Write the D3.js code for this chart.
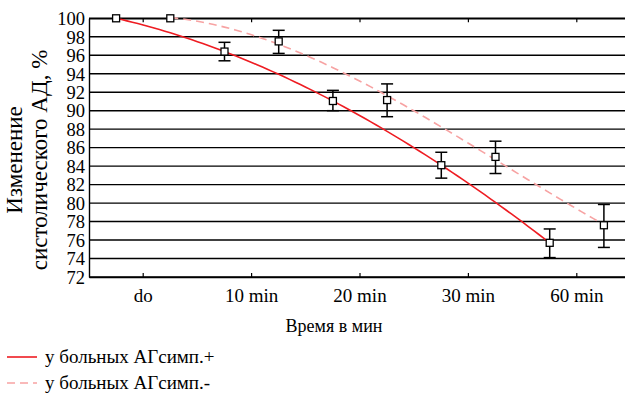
<!DOCTYPE html>
<html>
<head>
<meta charset="utf-8">
<script src="https://cdnjs.cloudflare.com/ajax/libs/d3/7.8.5/d3.min.js"></script>
<style>
  body { margin: 0; background: #fff; }
  svg text { font-family: "Liberation Serif"; }
</style>
</head>
<body>
<svg width="625" height="395" font-family="Liberation Serif"></svg>
<script>
var categories = ["do", "10 min", "20 min", "30 min", "60 min"];
var yTicks = [72, 74, 76, 78, 80, 82, 84, 86, 88, 90, 92, 94, 96, 98, 100];

// АГсимп.+
var plusMean = [100, 96.4, 91.05, 84.1, 75.7];
var plusLow  = [100, 95.4, 90.0, 82.7, 74.1];
var plusHigh = [100, 97.4, 92.2, 85.5, 77.2];
// АГсимп.-
var minusMean = [100, 97.5, 91.15, 85.0, 77.6];
var minusLow  = [100, 96.2, 89.35, 83.2, 75.2];
var minusHigh = [100, 98.7, 92.9, 86.7, 79.85];

var seriesNames = ["у больных АГсимп.+", "у больных АГсимп.-"];

// least squares polynomial (trend line like a spreadsheet one)
function polyFit(ys, order) {
  var n = order + 1, A = [], i, j, k;
  for (i = 0; i < n; i++) {
    A.push([]);
    for (j = 0; j <= n; j++) A[i].push(0);
  }
  ys.forEach(function(v, t) {
    for (i = 0; i < n; i++) {
      for (j = 0; j < n; j++) A[i][j] += Math.pow(t, i + j);
      A[i][n] += v * Math.pow(t, i);
    }
  });
  for (i = 0; i < n; i++) {
    for (k = i + 1; k < n; k++) {
      var f = A[k][i] / A[i][i];
      for (j = i; j <= n; j++) A[k][j] -= f * A[i][j];
    }
  }
  var c = new Array(n).fill(0);
  for (i = n - 1; i >= 0; i--) {
    var s = A[i][n];
    for (j = i + 1; j < n; j++) s -= A[i][j] * c[j];
    c[i] = s / A[i][i];
  }
  return function(t) {
    return c.reduce(function(acc, ci, p) { return acc + ci * Math.pow(t, p); }, 0);
  };
}

function draw() {
  var svg = d3.select("svg");
  var mLeft = 89, mRight = 631, mTop = 18.3, mBottom = 277;

  var x = d3.scaleBand().domain(categories).range([mLeft, mRight]);
  var xs = d3.scaleBand().domain(["plus", "minus"]).range([0, x.bandwidth()]);
  var y = d3.scaleLinear().domain([72, 100]).range([mBottom, mTop]);

  function px(cat, s) { return x(cat) + xs(s) + xs.bandwidth() / 2; }

  // grid
  svg.append("g").selectAll("line").data(yTicks).join("line")
      .attr("x1", mLeft).attr("x2", 625)
      .attr("y1", function(d) { return y(d); })
      .attr("y2", function(d) { return y(d); })
      .attr("stroke", "#000").attr("stroke-width", 1.4);

  // axes
  var yAxis = svg.append("g")
      .attr("transform", "translate(" + mLeft + ",0)")
      .call(d3.axisLeft(y).tickValues(yTicks).tickSize(0).tickPadding(4));
  yAxis.attr("font-family", null);
  yAxis.select(".domain").attr("stroke", "#000").attr("stroke-width", 1.4);
  yAxis.selectAll("text").attr("font-size", 18.5).attr("dy", "0.34em").attr("fill", "#000");

  var xAxis = svg.append("g")
      .attr("transform", "translate(0," + mBottom + ")")
      .call(d3.axisBottom(x).tickSizeInner(-4).tickSizeOuter(0).tickPadding(12));
  xAxis.attr("font-family", null);
  xAxis.select(".domain").attr("stroke", "#000").attr("stroke-width", 1.4);
  xAxis.selectAll(".tick line").attr("stroke", "#000").attr("stroke-width", 1.2);
  xAxis.selectAll("text").attr("font-size", 19).attr("fill", "#000");

  var xTop = svg.append("g")
      .attr("transform", "translate(0," + mTop + ")")
      .call(d3.axisTop(x).tickSizeInner(-4).tickSizeOuter(0).tickFormat(""));
  xTop.attr("font-family", null);
  xTop.select(".domain").attr("stroke", "#000").attr("stroke-width", 1.4);
  xTop.selectAll(".tick line").attr("stroke", "#000").attr("stroke-width", 1.2);

  var series = [
    {key: "plus", mean: plusMean, low: plusLow, high: plusHigh, color: "#ee1c22", dash: null},
    {key: "minus", mean: minusMean, low: minusLow, high: minusHigh, color: "#f7a3a3", dash: "8,5"}
  ];

  // trend lines
  series.forEach(function(s) {
    var fit = polyFit(s.mean, 3);
    var n = categories.length;
    var xt = d3.scaleLinear().domain([0, n - 1])
        .range([px(categories[0], s.key), px(categories[n - 1], s.key)]);
    var pts = d3.range(0, n - 1 + 1e-9, 0.05).map(function(t) { return [xt(t), y(fit(t))]; });
    svg.append("path")
        .attr("d", d3.line()(pts))
        .attr("fill", "none")
        .attr("stroke", s.color)
        .attr("stroke-width", 1.6)
        .attr("stroke-dasharray", s.dash);
  });

  // error bars and markers
  series.forEach(function(s) {
    var g = svg.append("g");
    categories.forEach(function(c, i) {
      var cx = px(c, s.key);
      if (s.high[i] !== s.low[i]) {
        g.append("line").attr("x1", cx).attr("x2", cx)
            .attr("y1", y(s.high[i])).attr("y2", y(s.low[i]))
            .attr("stroke", "#000").attr("stroke-width", 1.5);
        [s.high[i], s.low[i]].forEach(function(v) {
          g.append("line").attr("x1", cx - 6).attr("x2", cx + 6)
              .attr("y1", y(v)).attr("y2", y(v))
              .attr("stroke", "#000").attr("stroke-width", 1.5);
        });
      }
      g.append("rect")
          .attr("x", cx - 3.5).attr("y", y(s.mean[i]) - 3.5)
          .attr("width", 7).attr("height", 7)
          .attr("fill", "#fff").attr("stroke", "#000").attr("stroke-width", 1.3);
    });
  });

  // axis titles
  svg.append("text")
      .attr("x", 334).attr("y", 332)
      .attr("text-anchor", "middle")
      .attr("font-size", 18)
      .text("Время в мин");

  var yt = svg.append("text")
      .attr("transform", "translate(0,160) rotate(-90)")
      .attr("text-anchor", "middle")
      .attr("font-size", 23);
  yt.append("tspan").attr("x", 0).attr("y", 22).text("Изменение");
  yt.append("tspan").attr("x", 0).attr("y", 47).text("систолического АД, %");

  // legend
  var legend = svg.append("g");
  series.forEach(function(s, i) {
    var ly = 357 + i * 26;
    legend.append("line")
        .attr("x1", 7).attr("x2", 37).attr("y1", ly).attr("y2", ly)
        .attr("stroke", s.color).attr("stroke-width", 1.6)
        .attr("stroke-dasharray", s.dash);
    legend.append("text")
        .attr("x", 45).attr("y", ly + 6)
        .attr("font-size", 19)
        .text(seriesNames[i]);
  });

  svg.selectAll("text")
      .attr("font-family", "Liberation Serif")
      .style("font-family", "Liberation Serif");
}

draw();
</script>
</body>
</html>
